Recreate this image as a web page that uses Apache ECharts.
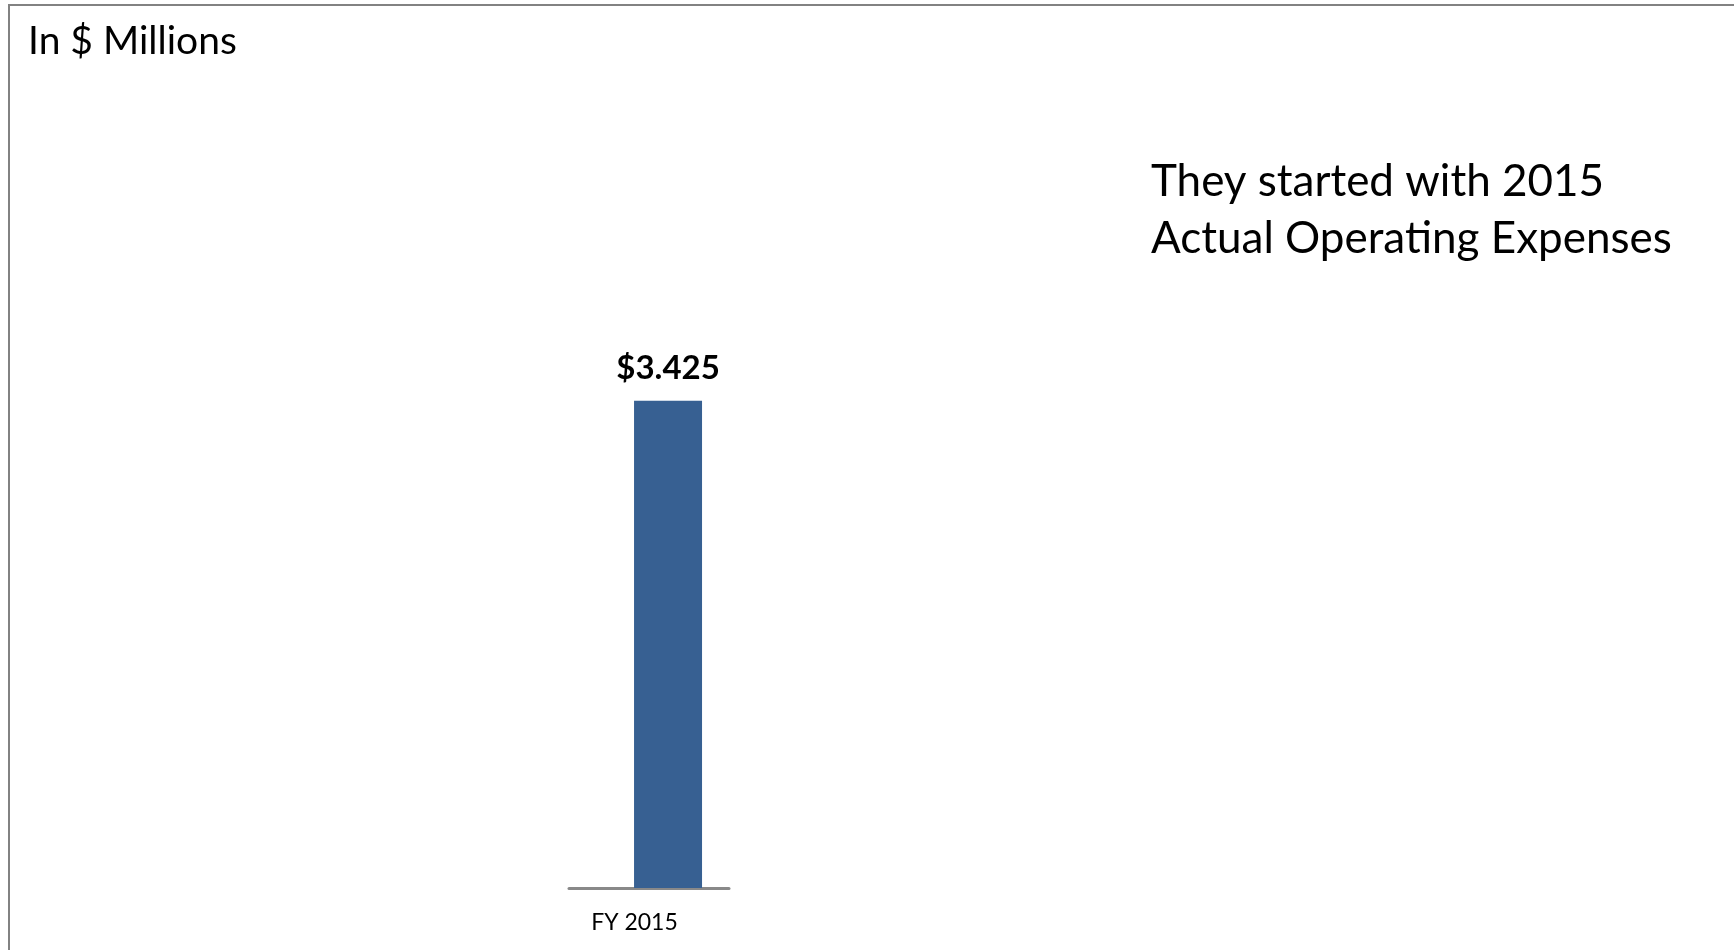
<!DOCTYPE html>
<html>
<head>
<meta charset="utf-8">
<script src="https://cdn.jsdelivr.net/npm/echarts@6/dist/echarts.min.js"></script>
<style>
  html, body { margin: 0; padding: 0; background: #ffffff; }
  #chart { width: 1734px; height: 950px; }
</style>
</head>
<body>
<div id="chart"></div>
<script>
// Operating expenses, in $ millions
const categories = ['FY 2015'];
const expenses = [3.425];
const unitNote = 'In $ Millions';
const noteLines = ['They started with 2015', 'Actual Operating Expenses'];

const chart = echarts.init(document.getElementById('chart'), null, { renderer: 'canvas' });

const option = {
  backgroundColor: '#ffffff',
  animation: false,
  title: [
    {
      text: unitNote,
      left: 23,
      top: 17,
      textStyle: { fontFamily: 'Lato', fontWeight: 'normal', fontSize: 39, color: '#000000' }
    },
    {
      text: noteLines.join('\n'),
      left: 1146,
      top: 148,
      textStyle: { fontFamily: 'Lato', fontWeight: 'normal', fontSize: 44, lineHeight: 57, color: '#000000' }
    }
  ],
  graphic: [
    // frame: top rule and left rule
    { type: 'rect', shape: { x: 8, y: 4, width: 1726, height: 2 }, style: { fill: '#828282' }, silent: true },
    { type: 'rect', shape: { x: 8, y: 4, width: 2, height: 946 }, style: { fill: '#828282' }, silent: true }
  ],
  grid: { left: 569, right: 1005, top: 319, bottom: 62, containLabel: false },
  xAxis: {
    type: 'category',
    data: categories,
    axisLine: { show: true, lineStyle: { color: '#898989', width: 3 } },
    axisTick: { show: false },
    axisLabel: {
      fontFamily: 'Lato', fontSize: 23, color: '#000000',
      margin: 23, padding: [0, 29, 0, 0]
    }
  },
  yAxis: {
    type: 'value', min: 0, max: 4,
    show: false,
    splitLine: { show: false }
  },
  series: [
    {
      // empty slot so the expense bar sits right of the axis centre
      type: 'bar',
      data: categories.map(() => '-'),
      barWidth: 68,
      barGap: '-44%',
      silent: true
    },
    {
      type: 'bar',
      data: expenses,
      barWidth: 68,
      barGap: '-44%',
      itemStyle: { color: '#376092' },
      label: {
        show: true,
        position: 'top',
        distance: 16,
        formatter: (p) => '$' + p.value.toFixed(3),
        fontFamily: 'Lato', fontWeight: 'bold', fontSize: 33, color: '#000000'
      }
    }
  ]
};

chart.setOption(option);
</script>
</body>
</html>
